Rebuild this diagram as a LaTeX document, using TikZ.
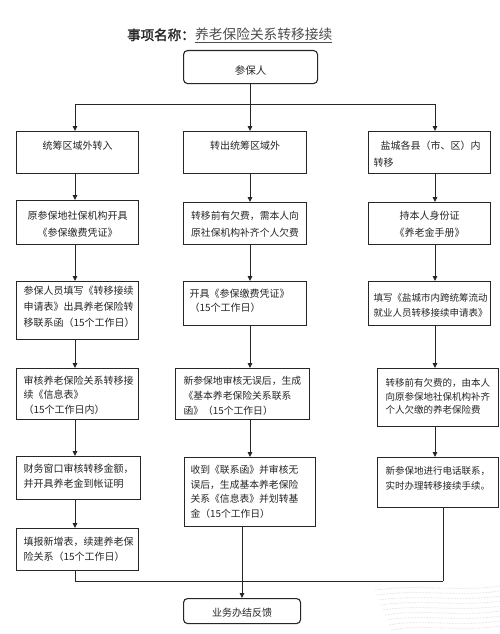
\documentclass[tikz,border=0pt]{standalone}
\usepackage{fontspec}
\setmainfont{Noto Sans CJK SC}[AutoFakeBold=2]
\usetikzlibrary{arrows.meta}
\newcommand\btxt[6]{\begin{minipage}[t][#2pt][t]{#1pt}\fontsize{#5}{#4}\selectfont\vspace*{#3pt}#6\end{minipage}}
\begin{document}
\begin{tikzpicture}[x=1pt,y=-1pt,
  box/.style={draw=black!85,line width=1.1pt,anchor=north west,inner sep=0pt,text=black!85},
  rbox/.style={box,rounded corners=4pt},
  arr/.style={draw=black!85,line width=0.9pt,-{Triangle[length=5pt,width=4.5pt]}},
  ln/.style={draw=black!85,line width=0.9pt},
  ttl/.style={anchor=base west,inner sep=0pt,text=black!85}]
\useasboundingbox (0,0) rectangle (500,634);
\fill[white] (0,0) rectangle (500,634);
% watermark
\foreach \i in {0,...,8}{
  \draw[black!10,line width=0.6pt,dash pattern=on 2pt off 1pt] (375+\i*2,590+\i*5) .. controls (420,584+\i*5) and (460,592+\i*5) .. (500,586+\i*5);
}
% title
\node[ttl,font=\fontsize{13.5}{16}\selectfont\bfseries] (T1) at (127,40) {事项名称：};
\node[ttl,font=\fontsize{13.7}{16}\selectfont,text=black!70] (T2) at (195,40) {\underline{养老保险关系转移接续}};
% named column coordinates
\coordinate (cL) at (75,0);
\coordinate (cM) at (250,0);
\coordinate (cR) at (435,0);
\coordinate (cMB) at (242,0);
\coordinate (jT) at (0,104);
\coordinate (jB) at (443,581);
% boxes
\node[rbox] (P) at (183,50) {\btxt{134}{33}{13.3}{15}{10.5}{\centering\strut 参保人\par}};
\node[box] (L1) at (16,131) {\btxt{122}{42}{7.3}{15}{10}{\centering\strut 统筹区域外转入\par}};
\node[box] (M1) at (183,131) {\btxt{123}{42}{7.3}{15}{10}{\centering\strut 转出统筹区域外\par}};
\node[box] (R1) at (368,131) {\btxt{122}{42}{6.4}{17}{10}{\leftskip=5pt\strut\hspace*{7pt}盐城各县（市、区）内\\转移\par}};
\node[box] (L2) at (16,200) {\btxt{122}{44}{6.9}{17}{10}{\centering\strut 原参保地社保机构开具\\《参保缴费凭证》\par}};
\node[box] (M2) at (183,202) {\btxt{123}{42}{4.9}{17}{9.8}{\centering\strut 转移前有欠费，需本人向\\原社保机构补齐个人欠费\par}};
\node[box] (R2) at (368,202) {\btxt{122}{42}{4.9}{17}{10}{\centering\strut 持本人身份证\\《养老金手册》\par}};
\node[box] (L3) at (16,281) {\btxt{122}{58}{1.6}{16}{10}{\leftskip=7pt\strut 参保人员填写《转移接续\\申请表》出具养老保险转\\移联系函（15个工作日）\par}};
\node[box] (M3) at (183,281) {\btxt{123}{44}{6.0}{14}{10}{\leftskip=6pt\strut 开具《参保缴费凭证》\\（15个工作日）\par}};
\node[box] (R3) at (368,281) {\btxt{122}{44}{9.3}{15}{9.5}{\leftskip=5pt\strut 填写《盐城市内跨统筹流动\\就业人员转移接续申请表》\par}};
\node[box] (L4) at (16,368) {\btxt{122}{51}{5.6}{14.5}{10}{\leftskip=7pt\strut 审核养老保险关系转移接\\续《信息表》\\（15个工作日内）\par}};
\node[box] (M4) at (175,368) {\btxt{134}{51}{5.3}{15}{9.8}{\leftskip=8pt\strut 新参保地审核无误后，生成\\《基本养老保险关系联系\\函》（15个工作日）\par}};
\node[box] (R4) at (377,368) {\btxt{121}{58}{8.2}{13.7}{9.5}{\leftskip=8pt\strut 转移前有欠费的，由本人\\向原参保地社保机构补齐\\个人欠缴的养老保险费\par}};
\node[box] (L5) at (16,456) {\btxt{124}{43}{5.3}{15}{10}{\leftskip=7pt\strut 财务窗口审核转移金额，\\并开具养老金到帐证明\par}};
\node[box] (M5) at (184,457) {\btxt{131}{69}{5.5}{14.7}{9.8}{\leftskip=6pt\strut 收到《联系函》并审核无\\误后，生成基本养老保险\\关系《信息表》并划转基\\金（15个工作日）\par}};
\node[box] (R5) at (377,457) {\btxt{121}{50}{6.3}{15}{9.5}{\leftskip=8pt\strut 新参保地进行电话联系，\\实时办理转移接续手续。\par}};
\node[box] (L6) at (16,528) {\btxt{122}{42}{6.3}{15}{10}{\leftskip=7pt\strut 填报新增表，续建养老保\\险关系（15个工作日）\par}};
\node[rbox] (B) at (183,598) {\btxt{117}{25}{7.3}{15}{10}{\centering\strut 业务办结反馈\par}};
% connectors
\draw[arr] (P.south -| cM) -- (M1.north -| cM);
\draw[ln] (cL |- jT) -- (cR |- jT);
\draw[arr] (cL |- jT) -- (L1.north -| cL);
\draw[arr] (cR |- jT) -- (R1.north -| cR);
\draw[arr] (L1.south -| cL) -- (L2.north -| cL);
\draw[arr] (L2.south -| cL) -- (L3.north -| cL);
\draw[arr] (L3.south -| cL) -- (L4.north -| cL);
\draw[arr] (L4.south -| cL) -- (L5.north -| cL);
\draw[arr] (L5.south -| cL) -- (L6.north -| cL);
\draw[arr] (M1.south -| cM) -- (M2.north -| cM);
\draw[arr] (M2.south -| cM) -- (M3.north -| cM);
\draw[arr] (M3.south -| cM) -- (M4.north -| cM);
\draw[arr] (M4.south -| cM) -- (M5.north -| cM);
\draw[arr] (R1.south -| cR) -- (R2.north -| cR);
\draw[arr] (R2.south -| cR) -- (R3.north -| cR);
\draw[arr] (R3.south -| cR) -- (R4.north -| cR);
\draw[arr] (R4.south -| cR) -- (R5.north -| cR);
\draw[ln] (L6.south -| cL) |- (jB);
\draw[ln] (R5.south -| jB) -- (jB);
\draw[arr] (M5.south -| cMB) -- (B.north -| cMB);
\end{tikzpicture}
\end{document}
